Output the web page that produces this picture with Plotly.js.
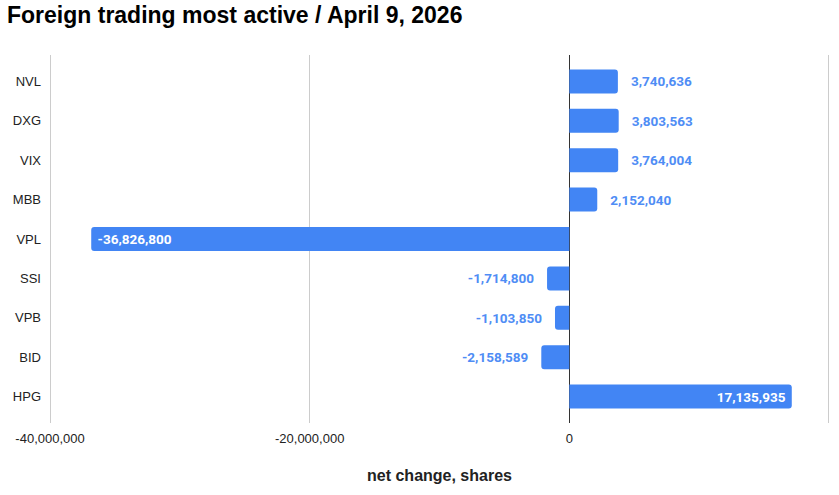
<!DOCTYPE html>
<html>
<head>
<meta charset="utf-8">
<script src="https://cdn.plot.ly/plotly-3.0.1.min.js"></script>
<style>
html,body{margin:0;padding:0;background:#fff;}
#chart{width:839px;height:495px;}
</style>
</head>
<body>
<div id="chart"></div>
<script>
const categories = ["NVL", "DXG", "VIX", "MBB", "VPL", "SSI", "VPB", "BID", "HPG"];
const values = [3740636, 3803563, 3764004, 2152040, -36826800, -1714800, -1103850, -2158589, 17135935];
const labelPlacement = ["outside", "outside", "outside", "outside", "inside", "outside", "outside", "outside", "inside"];
const tickValues = [-40000000, -20000000, 0, 20000000];
const tickLabels = ["-40,000,000", "-20,000,000", "0", ""];

const NB = "\u00a0";
function fmt(v) { return v.toLocaleString("en-US"); }
const texts = values.map((v, i) => {
  if (labelPlacement[i] === "inside") return v < 0 ? NB + fmt(v) : fmt(v) + NB;
  return v >= 0 ? NB + NB + NB + fmt(v) : fmt(v) + NB + NB + NB;
});

const FONT = "Liberation Sans, Arial, sans-serif";

const trace = {
  type: "bar",
  orientation: "h",
  x: values,
  y: categories,
  text: texts,
  textposition: labelPlacement,
  insidetextanchor: "end",
  constraintext: "none",
  cliponaxis: false,
  hoverinfo: "none",
  marker: { color: "#4285F4", cornerradius: 3 },
  insidetextfont: { family: "Roboto", size: 13.5, color: "#ffffff", weight: "bold" },
  outsidetextfont: { family: "Roboto", size: 13.5, color: "#4f8df5", weight: "bold" }
};

const layout = {
  width: 839,
  height: 495,
  margin: { l: 49, r: 9, t: 55, b: 72 },
  paper_bgcolor: "#ffffff",
  plot_bgcolor: "#ffffff",
  showlegend: false,
  bargap: 0.39,
  title: {
    text: "<b>Foreign trading most active / April 9, 2026</b>",
    x: 0, xref: "container", xanchor: "left",
    y: 1, yref: "container", yanchor: "top",
    pad: { l: 7, t: 7 },
    font: { family: FONT, size: 23, color: "#000000" }
  },
  xaxis: {
    range: [-40080000, 20080000],
    tickvals: tickValues,
    ticktext: tickLabels,
    showgrid: true,
    gridcolor: "#cccccc",
    gridwidth: 1,
    zeroline: true,
    zerolinecolor: "#333333",
    zerolinewidth: 1,
    showline: false,
    ticks: "",
    ticklabelstandoff: 6,
    tickfont: { family: FONT, size: 13, color: "#222222" },
    title: {
      text: "<b>net change, shares</b>",
      font: { family: FONT, size: 16, color: "#222222" },
      standoff: 24
    },
    fixedrange: true
  },
  yaxis: {
    categoryorder: "array",
    categoryarray: categories,
    range: [8.67, -0.67],
    showgrid: false,
    zeroline: false,
    showline: false,
    ticks: "",
    ticklabelstandoff: 7,
    tickfont: { family: FONT, size: 13, color: "#222222" },
    fixedrange: true
  }
};

Plotly.newPlot("chart", [trace], layout, { displayModeBar: false, staticPlot: true });
</script>
</body>
</html>
